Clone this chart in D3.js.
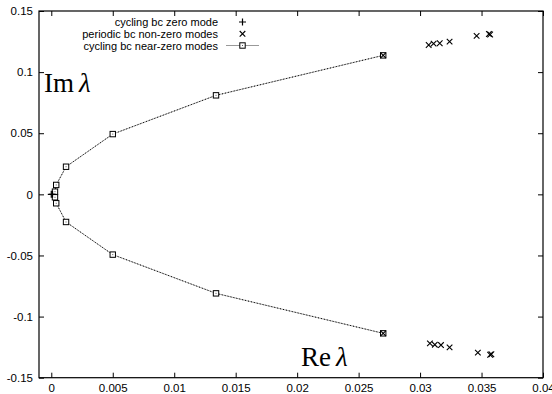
<!DOCTYPE html>
<html>
<head>
<meta charset="utf-8">
<script src="https://cdn.jsdelivr.net/npm/d3@7"></script>
<style>
  html, body { margin: 0; padding: 0; background: #fff; }
  svg { display: block; }
  .tick text { font-family: "Liberation Sans", Arial, sans-serif; font-size: 11.5px; fill: #000; }
  .legend text { font-family: "Liberation Sans", Arial, sans-serif; font-size: 11px; }
  .math { font-family: "Liberation Serif", "Times New Roman", serif; font-size: 27px; }
</style>
</head>
<body>
<div id="chart"></div>
<script>
// x ticks / y ticks
const xTickValues = [0, 0.005, 0.01, 0.015, 0.02, 0.025, 0.03, 0.035, 0.04];
const xTickLabels = ['0', '0.005', '0.01', '0.015', '0.02', '0.025', '0.03', '0.035', '0.04'];
const yTickValues = [-0.15, -0.1, -0.05, 0, 0.05, 0.1, 0.15];
const yTickLabels = ['-0.15', '-0.1', '-0.05', '0', '0.05', '0.1', '0.15'];

// cycling bc zero mode
const zeroRe = [0, 0.0001];
const zeroIm = [0, 0];

// periodic bc non-zero modes
const periodicRe = [0.027, 0.0307, 0.0311, 0.0316, 0.0324, 0.0346, 0.0356, 0.0357,
                    0.027, 0.0308, 0.0312, 0.0317, 0.0324, 0.0347, 0.0357, 0.0358];
const periodicIm = [0.1137, 0.1222, 0.1233, 0.1236, 0.1249, 0.1296, 0.1312, 0.1308,
                    -0.1137, -0.1219, -0.123, -0.1233, -0.1252, -0.1295, -0.1312, -0.1308];

// cycling bc near-zero modes
const nearRe = [0.027, 0.0134, 0.005, 0.0012, 0.0004, 0.0003, 0.0003, 0.0004, 0.0012, 0.005, 0.0134, 0.027];
const nearIm = [-0.1137, -0.081, -0.0493, -0.0226, -0.0073, -0.0024, 0.0022, 0.0077, 0.0226, 0.0493, 0.081, 0.1137];

const legendLabels = ['cycling bc zero mode', 'periodic bc non-zero modes', 'cycling bc near-zero modes'];

const width = 552;
const height = 394;
const margin = { top: 11, right: 9, bottom: 16.3, left: 39 };

const svg = d3.select('#chart')
  .append('svg')
  .attr('width', width)
  .attr('height', height);

const gx = d3.scaleLinear()
  .domain([-0.001, 0.04])
  .range([margin.left, width - margin.right]);

const gy = d3.scaleLinear()
  .domain([-0.15, 0.15])
  .range([height - margin.bottom, margin.top]);

const fmtX = d => xTickLabels[xTickValues.indexOf(d)];
const fmtY = d => yTickLabels[yTickValues.indexOf(d)];

function cleanAxis(g) {
  g.select('.domain').remove();
  g.selectAll('.tick line').attr('stroke', '#000');
}

svg.append('g')
  .attr('transform', `translate(0,${gy.range()[0]})`)
  .call(d3.axisBottom(gx).tickValues(xTickValues).tickFormat(fmtX).tickSize(-5).tickPadding(6))
  .call(cleanAxis);

svg.append('g')
  .attr('transform', `translate(0,${gy.range()[1]})`)
  .call(d3.axisTop(gx).tickValues(xTickValues).tickFormat('').tickSize(-5))
  .call(cleanAxis);

svg.append('g')
  .attr('transform', `translate(${gx.range()[0]},0)`)
  .call(d3.axisLeft(gy).tickValues(yTickValues).tickFormat(fmtY).tickSize(-5).tickPadding(6))
  .call(cleanAxis);

svg.append('g')
  .attr('transform', `translate(${gx.range()[1]},0)`)
  .call(d3.axisRight(gy).tickValues(yTickValues).tickFormat('').tickSize(-5))
  .call(cleanAxis);

svg.selectAll('.tick text').attr('font-family', null).attr('font-size', null);

// frame
svg.append('rect')
  .attr('x', gx.range()[0])
  .attr('y', gy.range()[1])
  .attr('width', gx.range()[1] - gx.range()[0])
  .attr('height', gy.range()[0] - gy.range()[1])
  .attr('fill', 'none')
  .attr('stroke', '#000')
  .attr('stroke-width', 1.2);

// math labels
const im = svg.append('text').attr('class', 'math').attr('x', 44).attr('y', 91.5);
im.append('tspan').text('Im');
im.append('tspan').attr('dx', 5).attr('font-style', 'italic').text('λ');

const re = svg.append('text').attr('class', 'math').attr('x', 301).attr('y', 366);
re.append('tspan').text('Re');
re.append('tspan').attr('dx', 5).attr('font-style', 'italic').text('λ');

// marker helpers
function plus(g, x, y, s) {
  g.append('path')
    .attr('d', `M${x - s},${y}H${x + s}M${x},${y - s}V${y + s}`)
    .attr('stroke', '#000').attr('stroke-width', 1.2).attr('fill', 'none');
}
function cross(g, x, y, s) {
  g.append('path')
    .attr('d', `M${x - s},${y - s}L${x + s},${y + s}M${x - s},${y + s}L${x + s},${y - s}`)
    .attr('stroke', '#000').attr('stroke-width', 1.1).attr('fill', 'none');
}
function square(g, x, y, s) {
  g.append('rect')
    .attr('x', x - s).attr('y', y - s)
    .attr('width', 2 * s).attr('height', 2 * s)
    .attr('fill', '#fff').attr('stroke', '#000').attr('stroke-width', 1);
  g.append('rect')
    .attr('x', x - 0.5).attr('y', y - 0.5).attr('width', 1).attr('height', 1)
    .attr('fill', '#555');
}
function dottedLine(g, d) {
  g.append('path').attr('d', d).attr('fill', 'none')
    .attr('stroke', '#aaa').attr('stroke-width', 1);
  g.append('path').attr('d', d).attr('fill', 'none')
    .attr('stroke', '#000').attr('stroke-width', 1).attr('stroke-dasharray', '1,2');
}

const plot = svg.append('g').attr('class', 'plot');

// near-zero line + squares
const nearPts = nearRe.map((r, i) => [r, nearIm[i]]);
const line = d3.line()
  .x(d => gx(d[0]))
  .y(d => gy(d[1]));
dottedLine(plot, line(nearPts));

nearPts.forEach(d => square(plot, gx(d[0]), gy(d[1]), 2.7));

// periodic crosses
periodicRe.forEach((r, i) => cross(plot, gx(r), gy(periodicIm[i]), 2.8));

// zero mode plus
zeroRe.forEach((r, i) => plus(plot, gx(r), gy(zeroIm[i]), 3.5));

// legend
const legend = svg.append('g').attr('class', 'legend');
const legY = [22, 33.8, 45.5];
const textRight = 218;
const sampleX = 242.5;

legendLabels.forEach((label, i) => {
  legend.append('text')
    .attr('x', textRight)
    .attr('y', legY[i] + 4)
    .attr('text-anchor', 'end')
    .text(label);
});
plus(legend, sampleX, legY[0], 3.5);
cross(legend, sampleX, legY[1], 2.8);
dottedLine(legend, `M226,${legY[2]}H259`);
legend.select('path:last-child').attr('stroke-dasharray', null).attr('stroke', '#999');
square(legend, sampleX, legY[2], 2.7);
</script>
</body>
</html>
